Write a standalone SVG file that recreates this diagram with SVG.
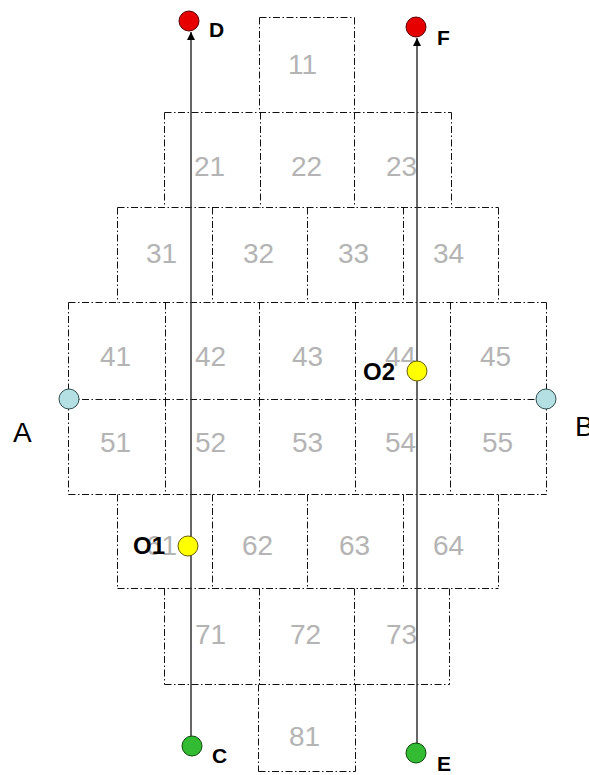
<svg xmlns="http://www.w3.org/2000/svg" width="589" height="775" viewBox="0 0 589 775">
<defs>
<style>
.e{fill:none;stroke:#111;stroke-width:1;stroke-dasharray:7 2.5 1.5 2.5}
.num{font-family:"Liberation Sans",Arial,sans-serif;font-size:28px;fill:#b4b4b4;text-anchor:middle}
.lbl{font-family:"Liberation Sans",Arial,sans-serif;font-weight:bold;fill:#000}
.big{font-family:"Liberation Sans",Arial,sans-serif;font-size:28px;fill:#000}
.conn{stroke:#333;stroke-width:1.5;fill:none}
.red{fill:#e60000;stroke:#5a0000;stroke-width:1}
.green{fill:#33bb33;stroke:#0a4a0a;stroke-width:1}
.yellow{fill:#ffff00;stroke:#6a6000;stroke-width:1}
.blue{fill:#b4e0e4;stroke:#2f5050;stroke-width:1}
</style>
<marker id="arr" viewBox="0 0 10 10" refX="10" refY="5" markerWidth="8" markerHeight="8" markerUnits="userSpaceOnUse" orient="auto">
<path d="M0,0 L10,5 L0,10 z" fill="#000"/>
</marker>
</defs>
<rect width="589" height="775" fill="#fff"/>

<g id="grid" transform="translate(0.5,0.5)">
<path class="e" d="M259 17H354"/>
<path class="e" d="M164 112H451"/>
<path class="e" d="M117 207H498"/>
<path class="e" d="M68 302H546"/>
<path class="e" d="M68 494H546"/>
<path class="e" d="M117 588H498"/>
<path class="e" d="M164 684H449"/>
<path class="e" d="M258 771H355"/>
</g>

<g id="cells" transform="translate(0.5,0.5)">
<g id="c11"><path class="e" d="M259 17V112M354 17V112"/><text class="num" x="302" y="73">11</text></g>

<g id="c21"><path class="e" d="M164 112V207"/><text class="num" x="209" y="175">21</text></g>
<g id="c22"><path class="e" d="M260 112V207"/><text class="num" x="306" y="175">22</text></g>
<g id="c23"><path class="e" d="M354 112V207M451 112V207"/><text class="num" x="401" y="175">23</text></g>

<g id="c31"><path class="e" d="M117 207V302"/><text class="num" x="161" y="262">31</text></g>
<g id="c32"><path class="e" d="M212 207V302"/><text class="num" x="258" y="262">32</text></g>
<g id="c33"><path class="e" d="M307 207V302"/><text class="num" x="353" y="262">33</text></g>
<g id="c34"><path class="e" d="M403 207V302M498 207V302"/><text class="num" x="448" y="262">34</text></g>

<g id="c41"><path class="e" d="M68 302V399"/><text class="num" x="115" y="365">41</text></g>
<g id="c42"><path class="e" d="M165 302V399"/><text class="num" x="210" y="365">42</text></g>
<g id="c43"><path class="e" d="M259 302V399"/><text class="num" x="307" y="365">43</text></g>
<g id="c44"><path class="e" d="M355 302V399"/><text class="num" x="400" y="365">44</text></g>
<g id="c45"><path class="e" d="M450 302V399M546 302V399"/><text class="num" x="495" y="365">45</text></g>

<g id="c51"><path class="e" d="M68 399V494"/><text class="num" x="115" y="451">51</text></g>
<g id="c52"><path class="e" d="M165 399V494"/><text class="num" x="210" y="451">52</text></g>
<g id="c53"><path class="e" d="M259 399V494"/><text class="num" x="307" y="451">53</text></g>
<g id="c54"><path class="e" d="M355 399V494"/><text class="num" x="400" y="451">54</text></g>
<g id="c55"><path class="e" d="M450 399V494M546 399V494"/><text class="num" x="497" y="451">55</text></g>

<g id="c61"><path class="e" d="M117 494V588"/><text class="num" x="161" y="554">61</text></g>
<g id="c62"><path class="e" d="M212 494V588"/><text class="num" x="257" y="554">62</text></g>
<g id="c63"><path class="e" d="M307 494V588"/><text class="num" x="354" y="554">63</text></g>
<g id="c64"><path class="e" d="M403 494V588M498 494V588"/><text class="num" x="448" y="554">64</text></g>

<g id="c71"><path class="e" d="M164 588V684"/><text class="num" x="210" y="643">71</text></g>
<g id="c72"><path class="e" d="M259 588V684"/><text class="num" x="305" y="643">72</text></g>
<g id="c73"><path class="e" d="M354 588V684M449 588V684"/><text class="num" x="401" y="643">73</text></g>

<g id="c81"><path class="e" d="M258 684V771M355 684V771"/><text class="num" x="304" y="745">81</text></g>
</g>

<g id="connectors">
<path class="e" d="M68.5 399.5H546.5"/>
<line class="conn" x1="191" y1="746" x2="191" y2="32" marker-end="url(#arr)"/>
<line class="conn" x1="417" y1="753" x2="417" y2="38" marker-end="url(#arr)"/>
</g>

<g id="nodeA"><circle class="blue" cx="69" cy="399" r="10"/><text class="big" x="13" y="442">A</text></g>
<g id="nodeB"><circle class="blue" cx="546" cy="399" r="10"/><text class="big" x="575" y="436">B</text></g>
<g id="nodeD"><circle class="red" cx="189" cy="21" r="10"/><text class="lbl" font-size="21" x="209" y="37">D</text></g>
<g id="nodeF"><circle class="red" cx="416" cy="27" r="10"/><text class="lbl" font-size="21" x="437" y="45">F</text></g>
<g id="nodeC"><circle class="green" cx="192" cy="746" r="10"/><text class="lbl" font-size="21" x="212" y="763">C</text></g>
<g id="nodeE"><circle class="green" cx="416" cy="753" r="10"/><text class="lbl" font-size="21" x="437" y="771">E</text></g>
<g id="nodeO2"><circle class="yellow" cx="417" cy="371" r="10"/><text class="lbl" font-size="24" x="363" y="380">O2</text></g>
<g id="nodeO1"><circle class="yellow" cx="188" cy="546" r="10"/><text class="lbl" font-size="24" x="133" y="554">O1</text></g>
</svg>
